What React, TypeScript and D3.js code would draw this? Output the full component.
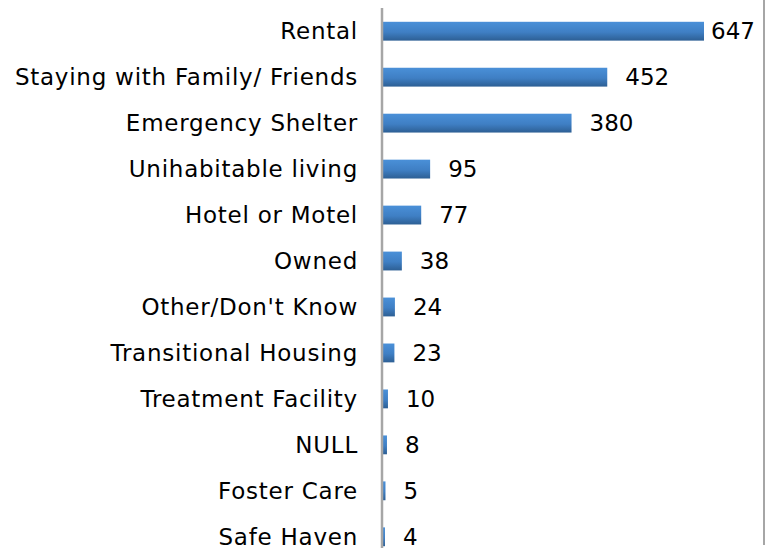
import React from 'react';
import * as d3 from 'd3';

const categories = [
  'Rental',
  'Staying with Family/ Friends',
  'Emergency Shelter',
  'Unihabitable living',
  'Hotel or Motel',
  'Owned',
  "Other/Don't Know",
  'Transitional Housing',
  'Treatment Facility',
  'NULL',
  'Foster Care',
  'Safe Haven',
];
const values = [647, 452, 380, 95, 77, 38, 24, 23, 10, 8, 5, 4];

const W = 772;
const H = 548;
const axisX = 383;

export default function App() {
  const x = d3.scaleLinear().domain([0, 647]).range([axisX, 704]);
  const y = d3.scaleBand<string>().domain(categories).range([8, 560]).paddingInner(0.59).paddingOuter(0.3);
  const bh = y.bandwidth();

  return (
    <svg width={W} height={H} style={{ position: 'absolute', left: 0, top: 0, background: '#fff' }}
      fontFamily="'DejaVu Sans', Verdana, sans-serif" fontSize={23}>
      <defs>
        <linearGradient id="barGrad" x1="0" y1="0" x2="0" y2="1">
          <stop offset="0%" stopColor="#4a90d8" />
          <stop offset="55%" stopColor="#3f7fc4" />
          <stop offset="100%" stopColor="#2d5f94" />
        </linearGradient>
      </defs>
      {categories.map((c, i) => {
        const cy = (y(c) ?? 0) + bh / 2;
        const end = x(values[i]);
        const lx = Math.min(end + 18, 711);
        return (
          <g key={c}>
            <rect x={axisX} y={y(c)} width={end - axisX} height={bh} fill="url(#barGrad)" />
            <text x={358} y={cy} dy="0.35em" textAnchor="end" letterSpacing={0.75} fill="#000">{c}</text>
            <text x={lx} y={cy} dy="0.35em" fill="#000">{values[i]}</text>
          </g>
        );
      })}
      <line x1={382} x2={382} y1={8} y2={548} stroke="#a6a6a6" strokeWidth={2.5} />
      <line x1={764} x2={764} y1={0} y2={545} stroke="#a6a6a6" strokeWidth={2} />
    </svg>
  );
}
